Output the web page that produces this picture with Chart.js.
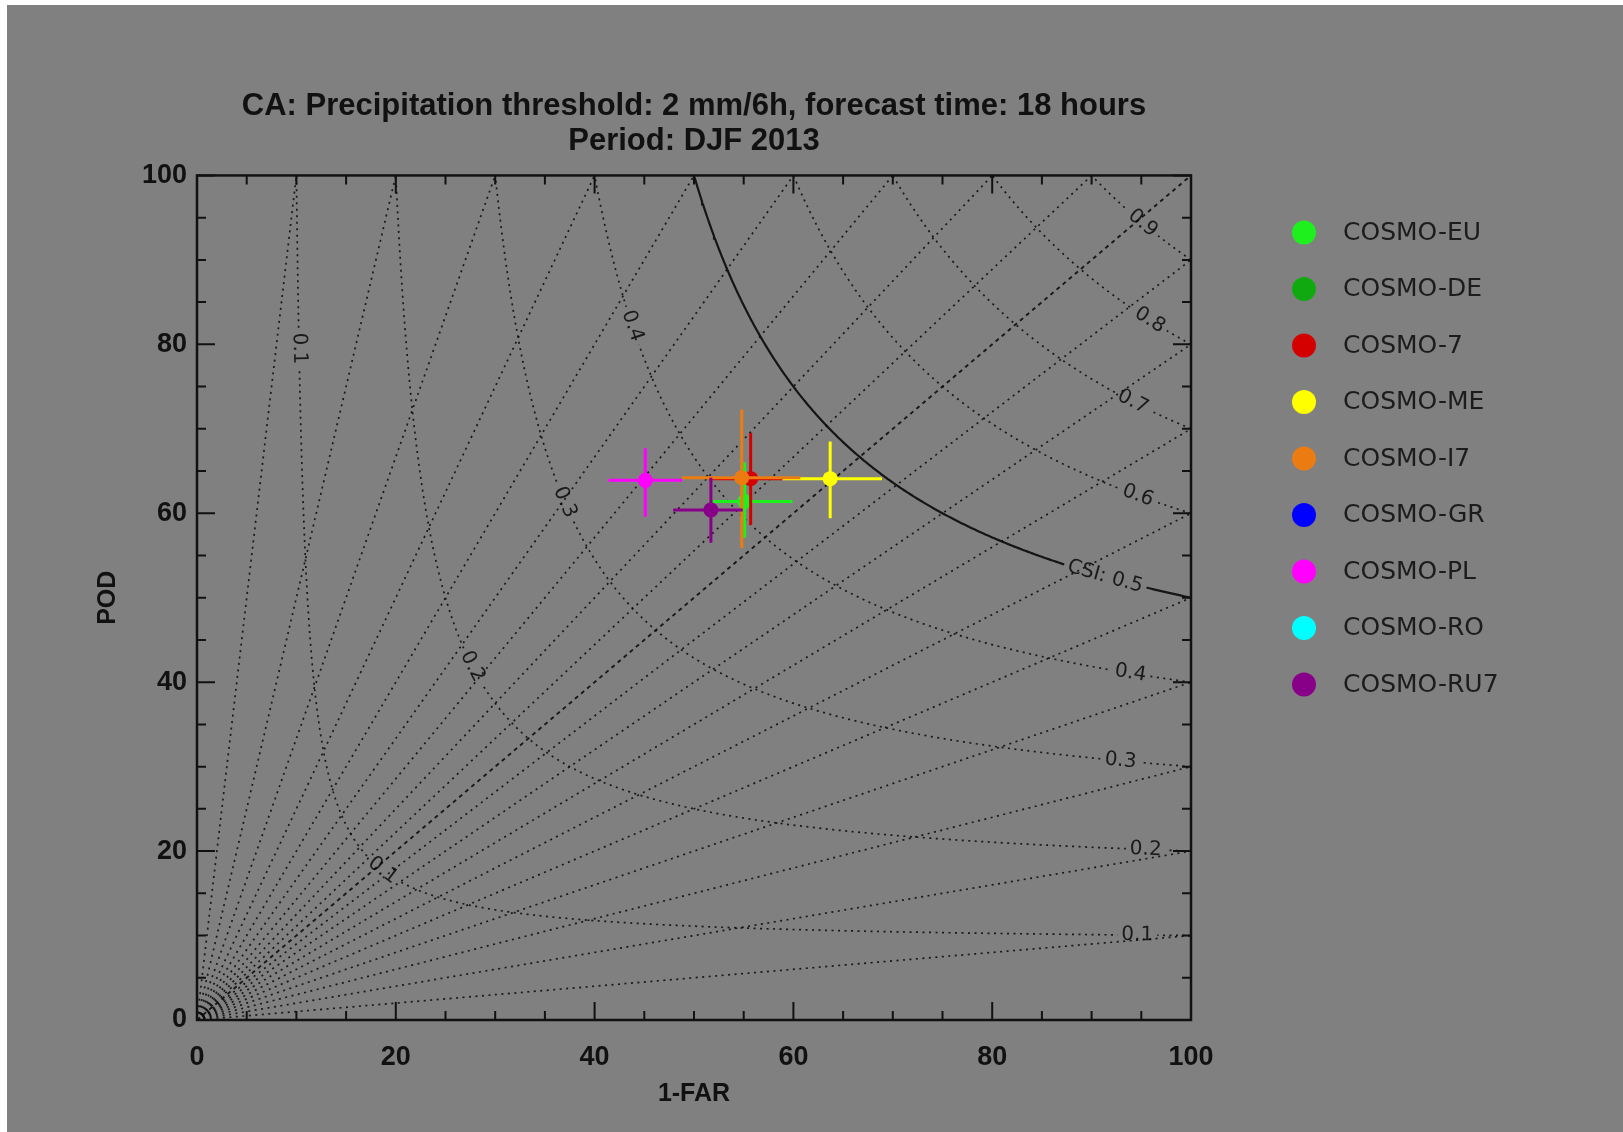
<!DOCTYPE html>
<html>
<head>
<meta charset="utf-8">
<title>CA performance diagram DJF 2013</title>
<script src="https://cdn.jsdelivr.net/npm/chart.js@4.4.1/dist/chart.umd.min.js"></script>
<style>
  html, body { margin: 0; padding: 0; background: #fff; }
  #wrap { width: 1623px; height: 1132px; }
</style>
</head>
<body>
<div id="wrap"><canvas id="myChart" width="1623" height="1132"></canvas></div>
<script>
// models, in legend order
const models = ['COSMO-EU', 'COSMO-DE', 'COSMO-7', 'COSMO-ME', 'COSMO-I7', 'COSMO-GR', 'COSMO-PL', 'COSMO-RO', 'COSMO-RU7'];
const model_colors = ['#1ef01e', '#10aa10', '#d40000', '#ffff00', '#ec7c12', '#0000ff', '#ff00ff', '#00ffff', '#880088'];

// scores in percent (null = no score for that model)
const one_minus_far = [55.1, null, 55.7, 63.7, 54.8, null, 45.1, null, 51.7];
const pod = [61.4, null, 64.1, 64.1, 64.2, null, 63.9, null, 60.4];
// confidence ranges
const far_low = [51.9, null, 51.5, 58.9, 48.8, null, 41.4, null, 47.9];
const far_high = [59.9, null, 58.9, 68.9, 60.7, null, 48.8, null, 54.9];
const pod_low = [57.1, null, 58.6, 59.4, 55.9, null, 59.6, null, 56.5];
const pod_high = [66.0, null, 69.5, 68.5, 72.3, null, 67.7, null, 64.2];

// frequency bias rays: end points on the top edge and on the right edge
const bias_top_x = [10, 20, 30, 40, 50, 60, 70, 80, 90, 100];
const bias_right_y = [10, 20, 30, 40, 50, 60, 70, 80, 90];
// CSI isolines, 0.5 drawn solid
const csi_levels = [0.1, 0.2, 0.3, 0.4, 0.5, 0.6, 0.7, 0.8, 0.9];
// where the isolines carry their labels (1-FAR, POD)
const csi_label_level = [0.1, 0.1, 0.1, 0.2, 0.2, 0.3, 0.3, 0.4, 0.4, 0.5, 0.6, 0.7, 0.8, 0.9];
const csi_label_at = [[10.2, 79], [18.8, 17.8], [95, 10.1], [27.6, 41.7], [95, 20.1], [37, 61.3], [92.9, 30.7],
	[43.8, 82.2], [94, 41.1], [91.4, 52.5], [94.8, 62.2], [94.3, 73.3], [96, 83], [95.3, 94.5]];

const line_color = 'rgba(12,12,12,0.9)';

// constant CSI line from the right edge (POD = level) to the top edge (1-FAR = level)
function csi_curve(level) {
	const k = 1 / level + 1;
	const a0 = Math.atan(level), a1 = Math.atan(1 / level);
	const pts = [];
	for (let i = 0; i <= 300; i++) {
		const t = a0 + (a1 - a0) * i / 300;
		const r = (1 / Math.cos(t) + 1 / Math.sin(t)) / k;
		pts.push({x: 100 * r * Math.cos(t), y: 100 * r * Math.sin(t)});
	}
	return pts;
}

// point on the CSI line along the ray through (x, y)
function csi_point(level, x, y) {
	const t = Math.atan2(y, x);
	const r = (1 / Math.cos(t) + 1 / Math.sin(t)) / (1 / level + 1);
	return {x: 100 * r * Math.cos(t), y: 100 * r * Math.sin(t)};
}

const datasets = [];

csi_levels.forEach(function (lev) {
	datasets.push({
		kind: 'csi',
		data: csi_curve(lev),
		showLine: true,
		pointRadius: 0,
		borderColor: lev === 0.5 ? '#151515' : line_color,
		borderWidth: lev === 0.5 ? 2.2 : 1.7,
		borderDash: lev === 0.5 ? [] : [2, 4.5],
		order: 300,
	});
});

bias_top_x.forEach(function (tx) {
	datasets.push({
		kind: 'ray',
		data: [{x: 0, y: 0}, {x: tx, y: 100}],
		showLine: true,
		pointRadius: 0,
		borderColor: line_color,
		borderWidth: tx === 100 ? 1.9 : 1.7,
		borderDash: tx === 100 ? [4, 4] : [2, 4.5],
		order: 200,
	});
});
bias_right_y.forEach(function (ry) {
	datasets.push({
		kind: 'ray',
		data: [{x: 0, y: 0}, {x: 100, y: ry}],
		showLine: true,
		pointRadius: 0,
		borderColor: line_color,
		borderWidth: 1.7,
		borderDash: [2, 4.5],
		order: 200,
	});
});

// model markers with their ranges; later models sit on top
models.forEach(function (name, i) {
	if (one_minus_far[i] === null) return;
	const base = 100 - i * 3;
	datasets.push({
		data: [{x: far_low[i], y: pod[i]}, {x: far_high[i], y: pod[i]}],
		showLine: true, pointRadius: 0,
		borderColor: model_colors[i], borderWidth: 3,
		order: base - 1,
	});
	datasets.push({
		data: [{x: one_minus_far[i], y: pod_low[i]}, {x: one_minus_far[i], y: pod_high[i]}],
		showLine: true, pointRadius: 0,
		borderColor: model_colors[i], borderWidth: 3,
		order: base - 1,
	});
	datasets.push({
		label: name,
		data: [{x: one_minus_far[i], y: pod[i]}],
		pointRadius: 7.5,
		pointBackgroundColor: model_colors[i],
		pointBorderWidth: 0,
		order: base - 2,
	});
});

// grey page with the thin white margin at top and left
const page_bg = {
	id: 'page_bg',
	beforeDraw(chart) {
		const ctx = chart.ctx;
		ctx.save();
		ctx.fillStyle = '#ffffff';
		ctx.fillRect(0, 0, chart.width, chart.height);
		ctx.fillStyle = '#808080';
		ctx.fillRect(7, 5, chart.width - 7, chart.height - 5);
		ctx.restore();
	}
};

// CSI labels, drawn over the isolines but under the bias rays
let labels_done = false;
const csi_labels = {
	id: 'csi_labels',
	beforeDatasetsDraw() { labels_done = false; },
	beforeDatasetDraw(chart, args) {
		if (labels_done || chart.data.datasets[args.index].kind !== 'ray') return;
		labels_done = true;
		const {ctx, scales: {x, y}} = chart;
		ctx.save();
		ctx.font = '20px "DejaVu Sans", sans-serif';
		ctx.textAlign = 'center';
		ctx.textBaseline = 'middle';
		csi_label_level.forEach(function (lev, i) {
			const p = csi_point(lev, csi_label_at[i][0], csi_label_at[i][1]);
			// slope of the isoline dPOD/d(1-FAR) = -(pod/far)^2, in pixels
			const sx = p.x / 100, sy = p.y / 100;
			const dx = x.getPixelForValue(p.x + 1) - x.getPixelForValue(p.x);
			const dy = y.getPixelForValue(p.y - (sy * sy) / (sx * sx)) - y.getPixelForValue(p.y);
			const ang = Math.atan2(dy, dx);
			const text = lev === 0.5 ? 'CSI: 0.5' : String(lev);
			const w = ctx.measureText(text).width;
			ctx.save();
			ctx.translate(x.getPixelForValue(p.x), y.getPixelForValue(p.y));
			ctx.rotate(ang);
			ctx.fillStyle = '#808080';
			ctx.fillRect(-w / 2 - 4, -9, w + 8, 18);
			ctx.fillStyle = '#1a1a1a';
			ctx.fillText(text, 0, 0);
			ctx.restore();
		});
		ctx.restore();
	}
};

// plot frame with inward ticks on all four sides
const frame_ticks = {
	id: 'frame_ticks',
	afterDatasetsDraw(chart) {
		const {ctx, chartArea: a, scales: {x, y}} = chart;
		ctx.save();
		ctx.strokeStyle = '#111';
		ctx.lineWidth = 2;
		ctx.beginPath();
		for (let v = 0; v <= 100; v += 5) {
			const len = v % 20 === 0 ? 18 : 9;
			const px = x.getPixelForValue(v), py = y.getPixelForValue(v);
			ctx.moveTo(px, a.bottom); ctx.lineTo(px, a.bottom - len);
			ctx.moveTo(px, a.top); ctx.lineTo(px, a.top + len);
			ctx.moveTo(a.left, py); ctx.lineTo(a.left + len, py);
			ctx.moveTo(a.right, py); ctx.lineTo(a.right - len, py);
		}
		ctx.stroke();
		ctx.lineWidth = 2.5;
		ctx.strokeRect(a.left, a.top, a.right - a.left, a.bottom - a.top);
		ctx.restore();
	}
};

// legend column right of the plot
const model_legend = {
	id: 'model_legend',
	afterDraw(chart) {
		const {ctx, chartArea: a} = chart;
		ctx.save();
		ctx.font = '25px "DejaVu Sans", sans-serif';
		ctx.textBaseline = 'middle';
		models.forEach(function (name, i) {
			const cy = a.top + 57 + i * 56.5;
			ctx.fillStyle = model_colors[i];
			ctx.beginPath();
			ctx.arc(a.right + 113, cy, 12, 0, Math.PI * 2);
			ctx.fill();
			ctx.fillStyle = '#1c1c1c';
			ctx.fillText(name, a.right + 152, cy + 1);
		});
		ctx.restore();
	}
};

const tick_font = {family: '"Liberation Sans", Arial, sans-serif', size: 27, weight: 'bold'};
const title_font = {family: '"Liberation Sans", Arial, sans-serif', size: 25, weight: 'bold'};

const config = {
	type: 'scatter',
	data: {datasets: datasets},
	options: {
		responsive: false,
		animation: false,
		devicePixelRatio: 1,
		events: [],
		layout: {padding: {left: 0, right: 432, top: 0, bottom: 0}},
		plugins: {
			legend: {display: false},
			tooltip: {enabled: false},
			title: {
				display: true,
				fullSize: false,
				text: ['CA: Precipitation threshold: 2 mm/6h, forecast time: 18 hours', 'Period: DJF 2013'],
				color: '#111',
				font: {family: '"Liberation Sans", Arial, sans-serif', size: 31, weight: 'bold', lineHeight: 1.12},
				padding: {top: 89, bottom: 17},
			},
		},
		scales: {
			x: {
				type: 'linear', min: 0, max: 100,
				grid: {display: false, drawTicks: false},
				border: {display: false},
				ticks: {stepSize: 20, padding: 21, color: '#111', font: tick_font, maxRotation: 0},
				title: {display: true, text: '1-FAR', color: '#111', font: title_font, padding: {top: 0, bottom: 23}},
				afterFit: function (scale) { scale.height = 112; },
			},
			y: {
				type: 'linear', min: 0, max: 100,
				grid: {display: false, drawTicks: false},
				border: {display: false},
				ticks: {stepSize: 20, padding: 10, color: '#111', font: tick_font},
				title: {display: true, text: 'POD', color: '#111', font: title_font, padding: {top: 93, bottom: 0}},
				afterFit: function (scale) { scale.width = 197; },
			},
		},
	},
	plugins: [page_bg, csi_labels, frame_ticks, model_legend],
};

var myChart = new Chart(document.getElementById('myChart'), config);
</script>
</body>
</html>
